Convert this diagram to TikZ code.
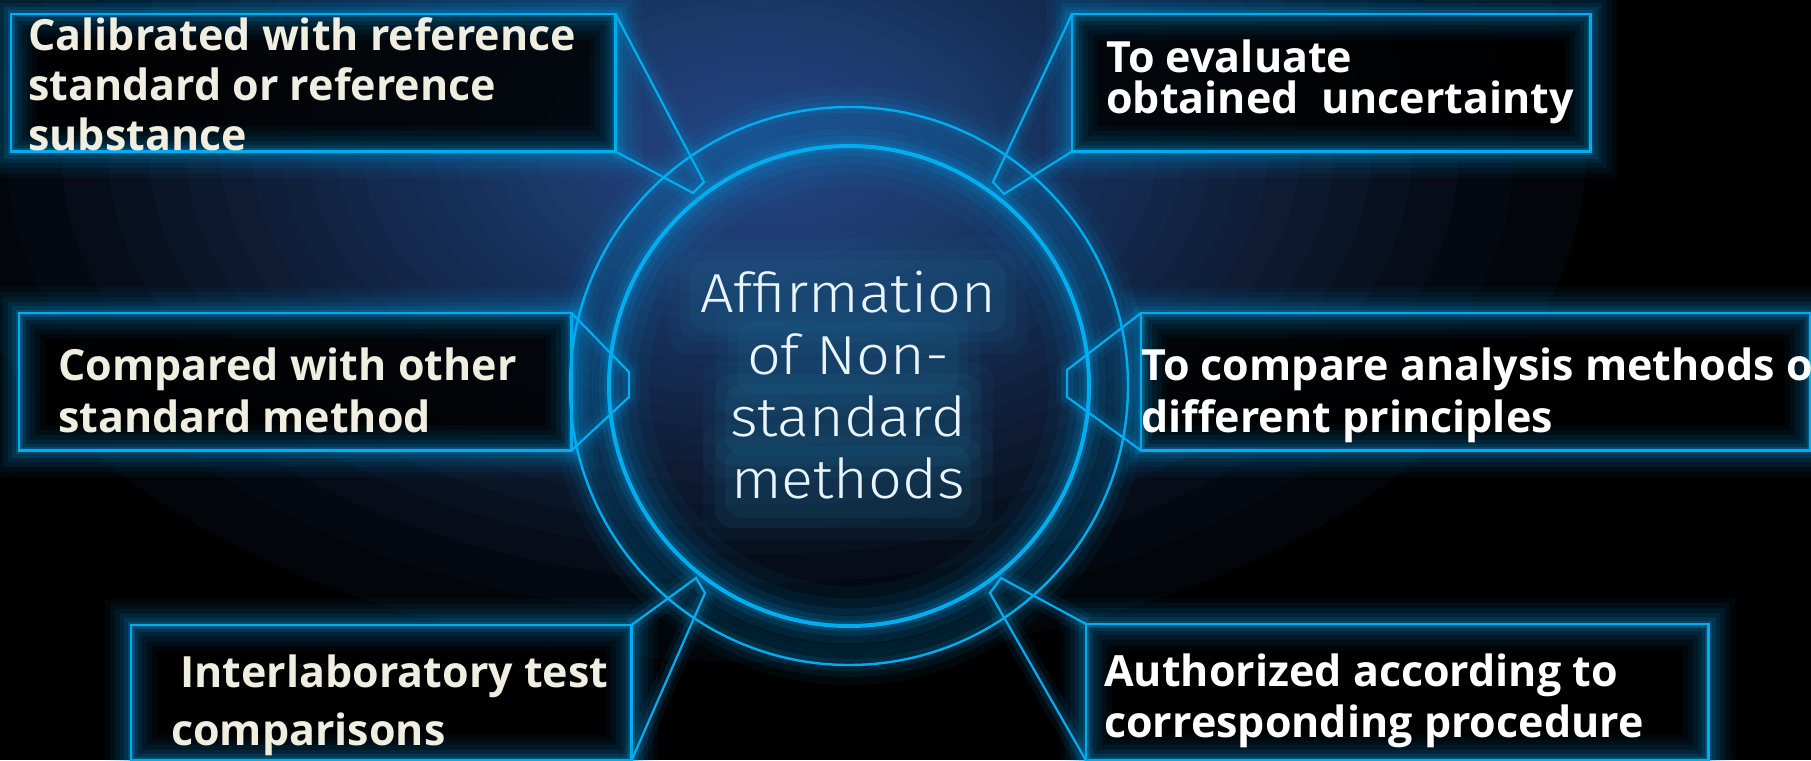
\documentclass[tikz,border=0pt]{standalone}
\usepackage{fontspec}
\setmainfont{Open Sans}
\newfontfamily\lightfont[FakeStretch=1.08]{Fira Sans Light}
\definecolor{cy}{RGB}{0,174,239}
\definecolor{cyglow}{RGB}{0,150,220}
\definecolor{txtL}{RGB}{240,237,225}
\definecolor{ctxt}{RGB}{232,245,255}
\definecolor{halo}{RGB}{30,110,150}
\definecolor{bgA}{RGB}{50,92,165}
\tikzset{
  boxframe/.style={draw=cy, line width=2.5pt, rectangle, inner sep=0pt},
  conn/.style={draw=cy, line width=2.2pt, line join=miter},
  lt/.style={text=txtL, align=left, inner sep=0pt, font=\fontsize{43}{#1}\selectfont\bfseries},
  rt/.style={text=white, align=left, inner sep=0pt, font=\fontsize{43}{#1}\selectfont\bfseries},
  ct/.style={text=ctxt, align=center, inner sep=0pt, font=\lightfont\fontsize{55}{62}\selectfont},
}
\begin{document}
\begin{tikzpicture}[x=1pt,y=-1pt]
\useasboundingbox (0,0) rectangle (1811,760);
\begin{scope}
\clip (0,0) rectangle (1811,760);
% background
\fill[black] (0,0) rectangle (1811,760);
\foreach \k in {1,...,32}{
  \pgfmathsetmacro\s{1-sqrt(\k/33)}
  \fill[bgA, opacity=0.055] (760,150) ellipse [x radius=1000*\s, y radius=620*\s];
}

% circle glows
\coordinate (cc) at (849,386);
\foreach \w/\o in {80/0.06,55/0.08,35/0.11,20/0.15,10/0.2}
  \draw[cyglow, line width=\w pt, opacity=\o] (cc) circle (240);
\foreach \w/\o in {40/0.06,24/0.09,12/0.13}
  \draw[cyglow, line width=\w pt, opacity=\o] (cc) circle (279);

% boxes (nodes)
\node[boxframe, minimum width=602pt, minimum height=135pt, anchor=north west] (b1) at (11,14) {};
\node[boxframe, minimum width=516pt, minimum height=135pt, anchor=north west] (b2) at (1072,14) {};
\node[boxframe, minimum width=550pt, minimum height=135pt, anchor=north west] (b3) at (19,313) {};
\node[boxframe, minimum width=667pt, minimum height=135pt, anchor=north west] (b4) at (1141,313) {};
\node[boxframe, minimum width=498pt, minimum height=133pt, anchor=north west] (b5) at (131,625) {};
\node[boxframe, minimum width=620pt, minimum height=134pt, anchor=north west] (b6) at (1086,624) {};

% box interiors and glows
\foreach \b in {b1,b2,b3,b4,b5,b6}{
  \fill[black, opacity=0.85] (\b.north west) rectangle (\b.south east);
  \foreach \w/\o in {52/0.05,42/0.06,32/0.08,22/0.1,14/0.14,7/0.2}
    \draw[cyglow, line width=\w pt, opacity=\o] (\b.north west) rectangle (\b.south east);
  \draw[cy, line width=2.5pt] (\b.north west) rectangle (\b.south east);
}

% connector tips
\coordinate (t1a) at (704,182); \coordinate (t1b) at (693,193);
\coordinate (t2a) at (993,182); \coordinate (t2b) at (1004,194);
\coordinate (t3a) at (629,372); \coordinate (t3b) at (629,397);
\coordinate (t4a) at (1067,370); \coordinate (t4b) at (1067,397);
\coordinate (t5a) at (696,578); \coordinate (t5b) at (705,593);
\coordinate (t6a) at (1001,578); \coordinate (t6b) at (990,593);

% connector glows
\foreach \w/\o in {22/0.08,12/0.14}{
  \draw[cyglow, line width=\w pt, opacity=\o, line join=round] (b1.north east) -- (t1a) -- (t1b) -- (b1.south east);
  \draw[cyglow, line width=\w pt, opacity=\o, line join=round] (b2.north west) -- (t2a) -- (t2b) -- (b2.south west);
  \draw[cyglow, line width=\w pt, opacity=\o, line join=round] (b3.north east) -- (t3a) -- (t3b) -- (b3.south east);
  \draw[cyglow, line width=\w pt, opacity=\o, line join=round] (b4.north west) -- (t4a) -- (t4b) -- (b4.south west);
  \draw[cyglow, line width=\w pt, opacity=\o, line join=round] (b5.north east) -- (t5a) -- (t5b) -- (b5.south east);
  \draw[cyglow, line width=\w pt, opacity=\o, line join=round] (b6.north west) -- (t6a) -- (t6b) -- (b6.south west);
}

% circles
\draw[cy, line width=4pt] (cc) circle (240);
\draw[cy, line width=2.4pt] (cc) circle (279);

% connectors
\draw[conn] (b1.north east) -- (t1a) -- (t1b) -- (b1.south east);
\draw[conn] (b2.north west) -- (t2a) -- (t2b) -- (b2.south west);
\draw[conn] (b3.north east) -- (t3a) -- (t3b) -- (b3.south east);
\draw[conn] (b4.north west) -- (t4a) -- (t4b) -- (b4.south west);
\draw[conn] (b5.north east) -- (t5a) -- (t5b) -- (b5.south east);
\draw[conn] (b6.north west) -- (t6a) -- (t6b) -- (b6.south west);

% center text halo
\foreach \y/\wd in {296/300,358/205,420/230,482/230}{
  \foreach \e/\o in {30/0.08,18/0.11,8/0.14}
    \fill[halo, opacity=\o, rounded corners=18pt] (848-\wd/2-\e,\y-28-\e) rectangle (848+\wd/2+\e,\y+28+\e);
}

% texts (base anchor = baseline of last line)
\node[lt=50, anchor=base west] (x1) at (28,150) {Calibrated with reference\\standard or reference\\substance};
\node[rt=40, anchor=base west] (x2) at (1106,113) {To evaluate\\obtained\ \ uncertainty};
\node[lt=52, anchor=base west] (x3) at (58,432) {Compared with other\\standard method};
\node[rt=52, anchor=base west] (x4) at (1141,432) {To compare analysis methods of\\different principles};
\node[lt=58, anchor=base west] (x5) at (171,745) {\hspace*{9pt}Interlaboratory test\\comparisons};
\node[rt=51, anchor=base west] (x6) at (1104,737) {Authorized according to\\corresponding procedure};
\node[ct, anchor=base] (c) at (848,498) {Affirmation\\of Non-\\standard\\methods};
\end{scope}
\end{tikzpicture}
\end{document}
